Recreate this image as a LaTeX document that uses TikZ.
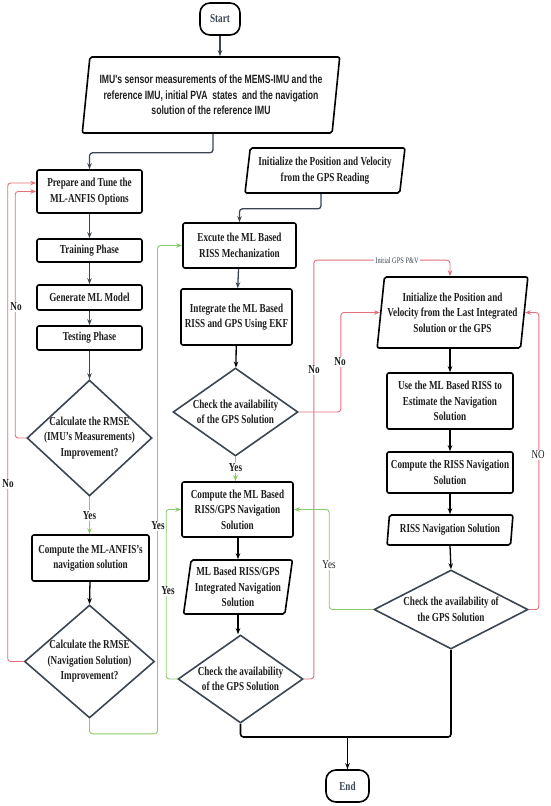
\documentclass[tikz,border=0pt]{standalone}
\usepackage{fontspec}
\setmainfont{Liberation Serif}[FakeStretch=0.75]
\newfontfamily\sansc{Liberation Sans}[FakeStretch=0.72]
\usetikzlibrary{shapes.geometric,arrows.meta,calc}
\definecolor{slate}{HTML}{3B4652}
\definecolor{redc}{HTML}{E2707A}
\definecolor{greenc}{HTML}{8CC968}
\definecolor{txt}{HTML}{1E1E1E}
\tikzset{
  base/.style={align=center, text=txt, font=\fontsize{12.2}{15.5}\selectfont\bfseries, inner sep=0pt},
  box/.style={base, draw=black, line width=1.6pt, rounded corners=2pt, fill=white},
  para/.style={base, trapezium, trapezium left angle=80, trapezium right angle=100,
     trapezium stretches=true, draw=black, line width=1.6pt, rounded corners=2pt},
  dia/.style={diamond, draw=slate, line width=1.6pt, inner sep=0pt},
  dtext/.style={base},
  term/.style={base, draw=black, line width=1.6pt, rounded corners=10pt, text=slate},
  conn/.style={draw=slate, line width=1.3pt, rounded corners=3pt, -{Stealth[length=6pt,width=4.5pt]}},
  connk/.style={conn, draw=black},
  connr/.style={conn, draw=redc, line width=0.9pt},
  conng/.style={conn, draw=greenc, line width=0.9pt},
  lbl/.style={base, fill=white, inner sep=1pt, text=txt},
  lbln/.style={lbl, font=\fontsize{12}{14}\selectfont},
  lbls/.style={lbl, font=\fontsize{8.5}{10}\selectfont, text=slate}
}
\begin{document}
\begin{tikzpicture}[x=1pt,y=-1pt]
\useasboundingbox (0,0) rectangle (550,806);
% left column
\node[term, minimum width=40, minimum height=32] (start) at (220,19) {Start};
\node[para, minimum width=258, minimum height=76, font=\fontsize{12}{15.5}\selectfont\sansc\bfseries] (input) at (211,95)
  {IMU's sensor measurements of the MEMS-IMU and the\\reference IMU, initial PVA\ \ states\ \ and the navigation\\solution of the reference IMU};
\node[box, minimum width=105, minimum height=43] (prep) at (89.5,191.5) {Prepare and Tune the\\ML-ANFIS Options};
\node[box, minimum width=105, minimum height=23] (train) at (89.5,250.5) {Training Phase};
\node[box, minimum width=105, minimum height=25] (gen) at (89.5,297.5) {Generate ML Model};
\node[box, minimum width=105, minimum height=24] (test) at (89.5,338) {Testing Phase};
\node[dia, minimum width=125, minimum height=116] (d1) at (89.5,438) {};
\node[dtext] (d1t) at (d1) {Calculate the RMSE\\(IMU's Measurements)\\Improvement?};
\node[box, minimum width=117, minimum height=46] (comp1) at (90.5,558) {Compute the ML-ANFIS's\\navigation solution};
\node[dia, minimum width=130, minimum height=113] (d2) at (89.5,661.5) {};
\node[dtext] (d2t) at (d2) {Calculate the RMSE\\(Navigation Solution)\\Improvement?};
% middle column
\node[para, minimum width=160, minimum height=45] (gps) at (325,170.5) {Initialize the Position and Velocity\\from the GPS Reading};
\node[box, minimum width=113, minimum height=45] (exe) at (239.5,245.5) {Excute the ML Based\\RISS Mechanization};
\node[box, minimum width=111, minimum height=56] (integ) at (236.5,317) {Integrate the ML Based\\RISS and GPS Using EKF};
\node[dia, minimum width=125, minimum height=88] (d3) at (235.5,412) {};
\node[dtext] (d3t) at (d3) {Check the availability\\of the GPS Solution};
\node[box, minimum width=111, minimum height=55] (comp2) at (237.5,509.5) {Compute the ML Based\\RISS/GPS Navigation\\Solution};
\node[para, minimum width=110, minimum height=54] (ml) at (238,587) {ML Based RISS/GPS\\Integrated Navigation\\Solution};
\node[dia, minimum width=125, minimum height=88] (d4) at (240.5,679) {};
\node[dtext] (d4t) at (d4) {Check the availability\\of the GPS Solution};
% right column
\node[para, minimum width=151, minimum height=71] (rinit) at (452.5,312.5) {Initialize the Position and\\Velocity from the Last Integrated\\Solution or the GPS};
\node[box, minimum width=126, minimum height=56] (ruse) at (450,401) {Use the ML Based RISS to\\Estimate the Navigation\\Solution};
\node[box, minimum width=126, minimum height=41] (rcomp) at (450,472.5) {Compute the RISS Navigation\\Solution};
\node[para, minimum width=126, minimum height=30] (rsol) at (450,530) {RISS Navigation Solution};
\node[dia, minimum width=154, minimum height=79] (d5) at (451,609.5) {};
\node[dtext] (d5t) at (d5) {Check the availability of\\the GPS Solution};
\node[term, minimum width=43, minimum height=32] (end) at (347.5,786) {End};
\coordinate (join) at (347.5,737);
% connectors
\draw[conn] (start.south) -- (input.north -| start.south);
\draw[conn] ([xshift=2pt]input.south) -- ++(0,19) -| (prep.north);
\draw[conn] (prep) -- (train);
\draw[conn] (train) -- (gen);
\draw[conn] (gen) -- (test);
\draw[conn] (test) -- (d1);
\draw[conng] (d1.south) -- node[lbl, text=txt] (y1) {Yes} (comp1.north -| d1.south);
\draw[connk] (comp1) -- (d2.north);
\draw[connr] (d1.west) -- ++(-11,0) |- (prep.west);
\node[lbl] (n1) at (16,307) {No};
\draw[connr] (d2.west) -- ++(-16,0) |- ([yshift=8.5pt]prep.west);
\node[lbl] (n2) at (8,484) {No};
\draw[conng] (d2.south) -- ++(0,15) -- ++(68,0) |- (exe.west);
\node[lbl] (y2) at (158,526) {Yes};
\draw[conn] ([xshift=-4pt]gps.south) -- ++(0,15) -| (exe.north);
\draw[conn] (exe) -- (integ);
\draw[connk] (integ) -- (d3);
\draw[conng] (d3.south) -- node[lbl, pos=0.45] (y3) {Yes} (comp2.north -| d3.south);
\draw[connk] (comp2.south -| ml.north) -- (ml.north);
\draw[connk] (ml.south) -- (d4.north -| ml.south);
\draw[conng] (d4.west) -- ++(-11,0) |- (comp2.west);
\node[lbl] (y4) at (168,591) {Yes};
\draw[connr] (d4.east) -- ++(10,0) |- ($(rinit.north -| ruse.north)+(0,-16)$) -- (rinit.north -| ruse.north);
\node[lbls] (igps) at (397,261) {Initial GPS P\&V};
\node[lbl] (n3) at (314,370) {No};
\draw[connr] (d3.east) -- ++(42,0) |- (rinit.west);
\node[lbl] (n4) at (340,362) {No};
\draw[connk] (rinit.south -| ruse.north) -- (ruse.north);
\draw[connk] (ruse) -- (rcomp);
\draw[connk] (rcomp) -- (rsol.north -| rcomp.south);
\draw[connk] (rsol.south -| rcomp.south) -- (d5.north);
\draw[conng] (d5.west) -- ++(-44,0) |- (comp2.east);
\node[lbln] (y5) at (329,565) {Yes};
\draw[connr] (d5.east) -- ++(10,0) |- (rinit.east);
\node[lbln] (n5) at (538,455) {NO};
\draw[black, line width=1.6pt, rounded corners=3pt] (d4.south) -- (d4.south |- join) -| (d5.south);
\draw[connk] (join) -- (end.north);
\end{tikzpicture}
\end{document}
